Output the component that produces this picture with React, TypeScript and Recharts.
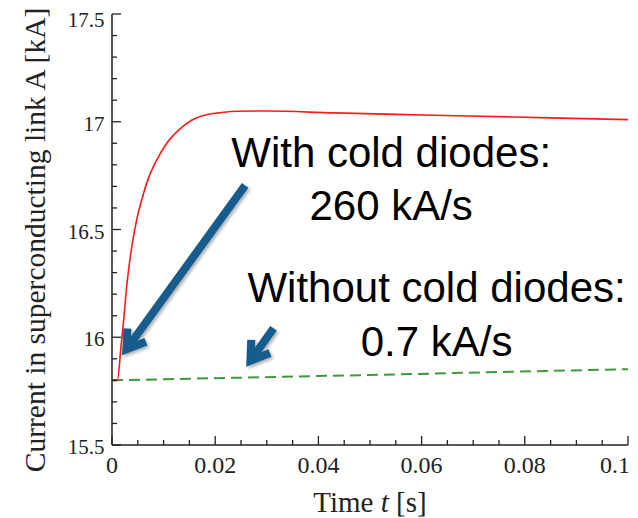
import React from 'react';
import { LineChart, Line, XAxis, YAxis, ReferenceLine, ReferenceDot } from 'recharts';

// ---- data ----
const xMajorTicks = [0, 0.02, 0.04, 0.06, 0.08, 0.1];
const xMajorLabels = ['0', '0.02', '0.04', '0.06', '0.08', '0.1'];
const xMinorTicks = [0.005, 0.01, 0.015, 0.025, 0.03, 0.035, 0.045, 0.05, 0.055, 0.065, 0.07, 0.075, 0.085, 0.09, 0.095];
const yMajorTicks = [15.5, 16, 16.5, 17, 17.5];
const yMajorLabels = ['15.5', '16', '16.5', '17', '17.5'];
const yMinorTicks = [15.6, 15.7, 15.8, 15.9, 16.1, 16.2, 16.3, 16.4, 16.6, 16.7, 16.8, 16.9, 17.1, 17.2, 17.3, 17.4];

const redTime = [0, 0.00105, 0.00174, 0.002, 0.00238, 0.00283, 0.00329, 0.00393, 0.00477, 0.00574, 0.00703, 0.00864, 0.01058, 0.01285, 0.01543, 0.01866, 0.0206, 0.0242, 0.03, 0.043, 0.055, 0.069, 0.085, 0.1];
const redCurrent = [15.8, 15.8, 15.955, 16.017, 16.11, 16.233, 16.326, 16.435, 16.543, 16.636, 16.736, 16.821, 16.899, 16.96, 17.007, 17.035, 17.041, 17.049, 17.05, 17.041, 17.034, 17.027, 17.018, 17.01];

const greenTime = [0, 0.05, 0.1];
const greenCurrent = [15.8, 15.825, 15.852];

const arrowStartTime = [0.0258, 0.0313];
const arrowStartCurrent = [16.705, 16.042];
const arrowTipTime = [0.00194, 0.026];
const arrowTipCurrent = [15.916, 15.863];

const noteLines = ['With cold diodes:', '260 kA/s', 'Without cold diodes:', '0.7 kA/s'];
const noteTime = [0.0541, 0.0541, 0.0629, 0.0629];
const noteCurrent = [16.79, 16.543, 16.164, 15.912];

const redData = redTime.map((t, k) => ({ t, i: redCurrent[k] }));
const greenData = greenTime.map((t, k) => ({ t, i: greenCurrent[k] }));
const xAllTicks = [...xMajorTicks, ...xMinorTicks].sort((a, b) => a - b);
const yAllTicks = [...yMajorTicks, ...yMinorTicks].sort((a, b) => a - b);

// ---- styles ----
const AXIS = '#222';
const SERIF = '"Liberation Serif", "Times New Roman", serif';
const SANS = '"Liberation Sans", Arial, sans-serif';
const ARROW = '#135b8c';

const majorIdx = (v: number, arr: number[]) => arr.findIndex((m) => Math.abs(m - v) < 1e-9);

const makeTick = (side: 'left' | 'right' | 'top' | 'bottom') => (props: any) => {
  const { x, y, payload } = props;
  const v = payload.value;
  const isX = side === 'top' || side === 'bottom';
  const mi = majorIdx(v, isX ? xMajorTicks : yMajorTicks);
  const len = mi >= 0 ? 9 : 5;
  let x2 = x, y2 = y;
  if (side === 'left') x2 = x + len;
  if (side === 'right') x2 = x - len;
  if (side === 'bottom') y2 = y - len;
  if (side === 'top') y2 = y + len;
  let label: any = null;
  if (mi >= 0 && side === 'left') {
    const last = mi === yMajorTicks.length - 1;
    label = (
      <text x={x - 7.5} y={last ? y + 12.7 : y + 9} textAnchor="end" fontFamily={SERIF} fontSize={21} fill="#222">
        {yMajorLabels[mi]}
      </text>
    );
  }
  if (mi >= 0 && side === 'bottom') {
    const last = mi === xMajorTicks.length - 1;
    label = (
      <text x={last ? x + 2 : x} y={y + 27.7} textAnchor={last ? 'end' : 'middle'} fontFamily={SERIF} fontSize={24} fill="#222">
        {xMajorLabels[mi]}
      </text>
    );
  }
  return (
    <g>
      <line x1={x} y1={y} x2={x2} y2={y2} stroke={AXIS} strokeWidth={1.3} />
      {label}
    </g>
  );
};

const ArrowShape = (props: any) => {
  const { x1, y1, x2, y2 } = props;
  const dx = x2 - x1, dy = y2 - y1;
  const len = Math.hypot(dx, dy) || 1;
  const ux = dx / len, uy = dy / len;
  const ang = (33 * Math.PI) / 180;
  const wl = 21;
  const sw = 8;
  const bx = -ux, by = -uy;
  const rot = (a: number) => [bx * Math.cos(a) - by * Math.sin(a), bx * Math.sin(a) + by * Math.cos(a)];
  const [w1x, w1y] = rot(ang);
  const [w2x, w2y] = rot(-ang);
  const back = sw / 2 / Math.sin(ang);
  const vx = x2 - ux * back, vy = y2 - uy * back;
  return (
    <g>
      <defs>
        <filter id="arrowShadow" x="-30%" y="-30%" width="160%" height="160%">
          <feDropShadow dx="2" dy="2" stdDeviation="1.6" floodColor="#000" floodOpacity="0.3" />
        </filter>
      </defs>
      <g filter="url(#arrowShadow)">
        <line x1={x1} y1={y1} x2={vx - ux * 2} y2={vy - uy * 2} stroke={ARROW} strokeWidth={sw} />
        <path
          d={`M${vx + w1x * wl},${vy + w1y * wl} L${vx},${vy} L${vx + w2x * wl},${vy + w2y * wl}`}
          fill="none"
          stroke={ARROW}
          strokeWidth={sw}
          strokeLinejoin="miter"
        />
      </g>
    </g>
  );
};

const noteShape = (text: string) => (props: any) => (
  <text x={props.cx} y={props.cy} textAnchor="middle" fontFamily={SANS} fontSize={42} fill="#000">
    {text}
  </text>
);

export default function App() {
  return (
    <div style={{ position: 'absolute', left: 0, top: 0, width: 638, height: 518, background: '#fff' }}>
      <LineChart width={638} height={518} margin={{ top: 14, right: 10, bottom: 0, left: 0 }}>
        <XAxis
          xAxisId="b"
          type="number"
          dataKey="t"
          domain={[0, 0.1]}
          allowDataOverflow
          ticks={xAllTicks}
          interval={0}
          tickSize={0}
          tickMargin={0}
          tickLine={false}
          tick={makeTick('bottom')}
          height={73}
          axisLine={{ stroke: AXIS, strokeWidth: 1.5 }}
          label={{
            content: (p: any) => {
              const vb = p.viewBox;
              return (
                <text x={vb.x + vb.width / 2} y={vb.y + 66.5} textAnchor="middle" fontFamily={SERIF} fontSize={29} fill="#222">
                  Time <tspan fontStyle="italic">t</tspan> [s]
                </text>
              );
            },
          }}
        />
        <XAxis
          xAxisId="t"
          orientation="top"
          type="number"
          dataKey="t"
          domain={[0, 0.1]}
          allowDataOverflow
          ticks={xAllTicks}
          interval={0}
          tickSize={0}
          tickMargin={0}
          tickLine={false}
          tick={makeTick('top')}
          height={0}
          axisLine={{ stroke: AXIS, strokeWidth: 1.5 }}
        />
        <YAxis
          yAxisId="l"
          type="number"
          domain={[15.5, 17.5]}
          allowDataOverflow
          ticks={yAllTicks}
          interval={0}
          tickSize={0}
          tickMargin={0}
          tickLine={false}
          tick={makeTick('left')}
          width={112}
          axisLine={{ stroke: AXIS, strokeWidth: 1.5 }}
          label={{
            content: (p: any) => {
              const vb = p.viewBox;
              const cx = 45;
              const cy = vb.y + vb.height / 2 + 10.5;
              return (
                <text x={cx} y={cy} transform={`rotate(-90, ${cx}, ${cy})`} textAnchor="middle" fontFamily={SERIF} fontSize={29.5} fill="#222">
                  Current in superconducting link A [kA]
                </text>
              );
            },
          }}
        />
        <YAxis
          yAxisId="r"
          orientation="right"
          type="number"
          domain={[15.5, 17.5]}
          allowDataOverflow
          ticks={yAllTicks}
          interval={0}
          tickSize={0}
          tickMargin={0}
          tickLine={false}
          tick={makeTick('right')}
          width={0}
          axisLine={{ stroke: AXIS, strokeWidth: 1.5 }}
        />
        <Line
          xAxisId="b"
          yAxisId="l"
          data={greenData}
          dataKey="i"
          type="linear"
          stroke="#3c9a3c"
          strokeWidth={2}
          strokeDasharray="11 6"
          dot={false}
          isAnimationActive={false}
        />
        <Line
          xAxisId="b"
          yAxisId="l"
          data={redData}
          dataKey="i"
          type="monotone"
          stroke="#ff1a1a"
          strokeWidth={1.6}
          dot={false}
          isAnimationActive={false}
        />
        {arrowStartTime.map((t, k) => (
          <ReferenceLine
            key={`arrow${k}`}
            xAxisId="b"
            yAxisId="l"
            segment={[
              { x: t, y: arrowStartCurrent[k] },
              { x: arrowTipTime[k], y: arrowTipCurrent[k] },
            ]}
            shape={ArrowShape}
          />
        ))}
        {noteLines.map((s, k) => (
          <ReferenceDot key={`note${k}`} xAxisId="b" yAxisId="l" x={noteTime[k]} y={noteCurrent[k]} r={0} shape={noteShape(s)} />
        ))}
      </LineChart>
    </div>
  );
}
